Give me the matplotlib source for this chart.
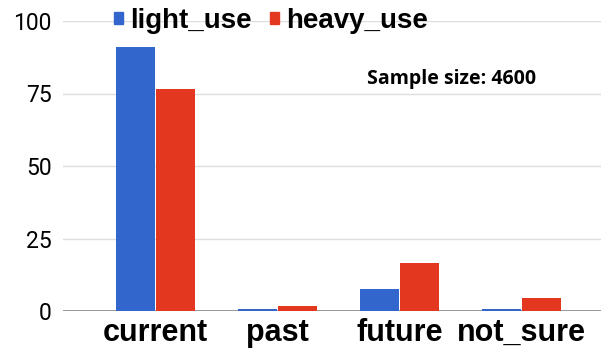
import matplotlib
matplotlib.use("Agg")
import matplotlib.pyplot as plt
import numpy as np
from matplotlib.patches import Rectangle

categories = ["current", "past", "future", "not_sure"]
light_use = [91.0, 0.6, 7.6, 0.6]
heavy_use = [76.6, 1.7, 16.6, 4.5]
yticks = [0, 25, 50, 75, 100]

blue = "#3366cc"
red = "#e3381f"

fig = plt.figure(figsize=(6.01, 3.57), dpi=100)
ax = fig.add_axes([63/601, 1-311/357, 1-63/601, (311-21)/357])

x = np.arange(len(categories))
w = 0.32
ax.bar(x - w/2 - 0.004, light_use, width=w, color=blue, zorder=3)
ax.bar(x + w/2 + 0.004, heavy_use, width=w, color=red, zorder=3)

ax.set_xlim(-0.755, 3.65)
ax.set_ylim(0, 100)
ax.set_yticks(yticks)
ax.set_yticklabels([str(t) for t in yticks], fontsize=16.5, family="Roboto")
ax.set_xticks(x)
ax.set_xticklabels(categories, fontsize=22, fontweight="bold", family="Liberation Sans")
ax.tick_params(axis="both", length=0)
ax.tick_params(axis="x", pad=5)
ax.tick_params(axis="y", pad=8)
for s in ax.spines.values():
    s.set_visible(False)
ax.grid(axis="y", color="#dddddd", linewidth=1, zorder=0)
ax.axhline(0, color="#888888", linewidth=1.2, zorder=2)

handles = [Rectangle((0, 0), 1, 1, color=blue), Rectangle((0, 0), 1, 1, color=red)]
fig.legend(handles, ["light_use", "heavy_use"], loc="center", bbox_to_anchor=(271/601, 1-21/357),
           ncol=2, frameon=False, handlelength=0.32, handleheight=0.32, handletextpad=0.25,
           columnspacing=0.65, borderpad=0,
           prop={"family": "Liberation Sans", "weight": "bold", "size": 20})

fig.text(452/601, 1-79/357, "Sample size: 4600", ha="center", va="center",
         fontsize=14, fontweight="bold", family="Open Sans")

fig.savefig("out.png", dpi=100)
